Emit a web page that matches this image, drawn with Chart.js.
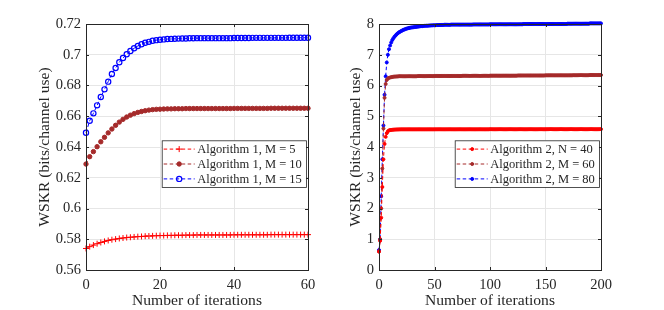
<!DOCTYPE html>
<html>
<head>
<meta charset="utf-8">
<script src="https://cdn.jsdelivr.net/npm/chart.js@4"></script>
<style>
  body { margin: 0; background: #fff; }
  #wrap { position: relative; width: 664px; height: 310px; }
  canvas { position: absolute; top: 0; }
</style>
</head>
<body>
<div id="wrap">
  <canvas id="leftChart" width="332" height="310" style="left:0"></canvas>
  <canvas id="rightChart" width="332" height="310" style="left:332px"></canvas>
</div>
<script>
// ---- left panel: Algorithm 1, WSKR vs iteration (0..60)
const leftXTicks = [0, 20, 40, 60];
const leftYTicks = [0.56, 0.58, 0.6, 0.62, 0.64, 0.66, 0.68, 0.7, 0.72];
const alg1M5 = [
  0.574, 0.5752, 0.5762, 0.5771, 0.5779, 0.5786, 0.5792, 0.5797, 0.5801, 0.5805,
  0.5808, 0.5811, 0.5813, 0.5815, 0.5817, 0.5818, 0.582, 0.5821, 0.5822, 0.5823,
  0.5824, 0.5824, 0.5825, 0.5825, 0.5826, 0.5826, 0.5826, 0.5827, 0.5827, 0.5827,
  0.5828, 0.5828, 0.5828, 0.5828, 0.5828, 0.5828, 0.5828, 0.5828, 0.5828, 0.5828,
  0.5829, 0.5829, 0.5829, 0.5829, 0.5829, 0.5829, 0.5829, 0.5829, 0.5829, 0.5829,
  0.583, 0.583, 0.583, 0.583, 0.583, 0.583, 0.583, 0.583, 0.583, 0.583, 0.583
];
const alg1M10 = [
  0.6289, 0.6337, 0.637, 0.6402, 0.6434, 0.6463, 0.6492, 0.6517, 0.6541, 0.6562,
  0.658, 0.6595, 0.6607, 0.6617, 0.6625, 0.6631, 0.6636, 0.664, 0.6643, 0.6645,
  0.6646, 0.6647, 0.6648, 0.6648, 0.6649, 0.6649, 0.6649, 0.665, 0.665, 0.665,
  0.665, 0.665, 0.665, 0.665, 0.665, 0.665, 0.665, 0.665, 0.665, 0.665,
  0.6651, 0.6651, 0.6651, 0.6651, 0.6651, 0.6651, 0.6651, 0.6651, 0.6651, 0.6651,
  0.6652, 0.6652, 0.6652, 0.6652, 0.6652, 0.6652, 0.6652, 0.6652, 0.6652, 0.6652, 0.6652
];
const alg1M15 = [
  0.6493, 0.6571, 0.6619, 0.6671, 0.6725, 0.6775, 0.6825, 0.6875, 0.6914, 0.6951,
  0.6979, 0.7003, 0.7024, 0.7042, 0.7057, 0.7068, 0.7078, 0.7084, 0.7091, 0.7095,
  0.7098, 0.71, 0.7102, 0.7103, 0.7104, 0.7105, 0.7106, 0.7106, 0.7107, 0.7107,
  0.7108, 0.7108, 0.7108, 0.7108, 0.7108, 0.7108, 0.7108, 0.7108, 0.7108, 0.7108,
  0.7109, 0.7109, 0.7109, 0.7109, 0.7109, 0.711, 0.711, 0.711, 0.711, 0.711,
  0.711, 0.711, 0.711, 0.711, 0.711, 0.7111, 0.7111, 0.7111, 0.7111, 0.7111, 0.7111
];

// ---- right panel: Algorithm 2, WSKR vs iteration (0..200)
const rightXTicks = [0, 50, 100, 150, 200];
const rightYTicks = [0, 1, 2, 3, 4, 5, 6, 7, 8];
const alg2N40 = [
  0.6, 0.95, 1.7, 2.7, 3.6, 4.1, 4.33, 4.45, 4.51, 4.54,
  4.55, 4.555, 4.56, 4.563, 4.566, 4.568, 4.57, 4.571, 4.572, 4.573,
  4.574, 4.574, 4.574, 4.574, 4.574, 4.574, 4.574, 4.574, 4.574, 4.574,
  4.574, 4.574, 4.574, 4.574, 4.574, 4.574, 4.574, 4.574, 4.574, 4.574,
  4.574, 4.574, 4.574, 4.574, 4.574, 4.574, 4.574, 4.574, 4.574, 4.574,
  4.575, 4.575, 4.575, 4.575, 4.575, 4.575, 4.575, 4.575, 4.575, 4.575,
  4.575, 4.575, 4.575, 4.575, 4.575, 4.575, 4.575, 4.575, 4.575, 4.575,
  4.575, 4.575, 4.575, 4.575, 4.575, 4.575, 4.575, 4.575, 4.575, 4.575,
  4.575, 4.575, 4.575, 4.575, 4.575, 4.575, 4.575, 4.575, 4.575, 4.575,
  4.575, 4.575, 4.575, 4.575, 4.575, 4.575, 4.575, 4.575, 4.575, 4.575,
  4.577, 4.577, 4.577, 4.577, 4.577, 4.577, 4.577, 4.577, 4.577, 4.577,
  4.577, 4.577, 4.577, 4.577, 4.577, 4.577, 4.577, 4.577, 4.577, 4.577,
  4.577, 4.577, 4.577, 4.577, 4.577, 4.577, 4.577, 4.577, 4.577, 4.577,
  4.577, 4.577, 4.577, 4.577, 4.577, 4.577, 4.577, 4.577, 4.577, 4.577,
  4.577, 4.577, 4.577, 4.577, 4.577, 4.577, 4.577, 4.577, 4.577, 4.577,
  4.579, 4.579, 4.579, 4.579, 4.579, 4.579, 4.579, 4.579, 4.579, 4.579,
  4.579, 4.579, 4.579, 4.579, 4.579, 4.579, 4.579, 4.579, 4.579, 4.579,
  4.579, 4.579, 4.579, 4.579, 4.579, 4.579, 4.579, 4.579, 4.579, 4.579,
  4.579, 4.579, 4.579, 4.579, 4.579, 4.579, 4.579, 4.579, 4.579, 4.579,
  4.579, 4.579, 4.579, 4.579, 4.579, 4.579, 4.579, 4.579, 4.579, 4.579,
  4.58
];
const alg2M60 = [
  0.6, 1.0, 2.0, 3.3, 4.6, 5.6, 6.05, 6.18, 6.23, 6.25,
  6.26, 6.27, 6.28, 6.285, 6.29, 6.29, 6.295, 6.295, 6.3, 6.3,
  6.3, 6.3, 6.3, 6.3, 6.3, 6.3, 6.3, 6.3, 6.3, 6.3,
  6.3, 6.3, 6.3, 6.3, 6.3, 6.305, 6.305, 6.305, 6.305, 6.305,
  6.305, 6.305, 6.305, 6.305, 6.305, 6.305, 6.305, 6.305, 6.305, 6.305,
  6.31, 6.31, 6.31, 6.31, 6.31, 6.31, 6.31, 6.31, 6.31, 6.31,
  6.31, 6.31, 6.31, 6.31, 6.31, 6.31, 6.31, 6.31, 6.31, 6.31,
  6.31, 6.31, 6.31, 6.31, 6.31, 6.315, 6.315, 6.315, 6.315, 6.315,
  6.315, 6.315, 6.315, 6.315, 6.315, 6.315, 6.315, 6.315, 6.315, 6.315,
  6.315, 6.315, 6.315, 6.315, 6.315, 6.315, 6.315, 6.315, 6.315, 6.315,
  6.32, 6.32, 6.32, 6.32, 6.32, 6.32, 6.32, 6.32, 6.32, 6.32,
  6.32, 6.32, 6.32, 6.32, 6.32, 6.32, 6.32, 6.32, 6.32, 6.32,
  6.32, 6.32, 6.32, 6.32, 6.32, 6.325, 6.325, 6.325, 6.325, 6.325,
  6.325, 6.325, 6.325, 6.325, 6.325, 6.325, 6.325, 6.325, 6.325, 6.325,
  6.325, 6.325, 6.325, 6.325, 6.325, 6.325, 6.325, 6.325, 6.325, 6.325,
  6.33, 6.33, 6.33, 6.33, 6.33, 6.33, 6.33, 6.33, 6.33, 6.33,
  6.33, 6.33, 6.33, 6.33, 6.33, 6.33, 6.33, 6.33, 6.33, 6.33,
  6.33, 6.33, 6.33, 6.33, 6.33, 6.335, 6.335, 6.335, 6.335, 6.335,
  6.335, 6.335, 6.335, 6.335, 6.335, 6.335, 6.335, 6.335, 6.335, 6.335,
  6.34, 6.34, 6.34, 6.34, 6.34, 6.34, 6.34, 6.34, 6.34, 6.34,
  6.34
];
const alg2M80 = [
  0.65, 1.0, 2.4, 3.6, 4.7, 5.7, 6.3, 6.75, 7.0, 7.18,
  7.3, 7.4, 7.48, 7.54, 7.59, 7.63, 7.67, 7.7, 7.73, 7.75,
  7.77, 7.79, 7.81, 7.82, 7.84, 7.85, 7.86, 7.87, 7.88, 7.885,
  7.89, 7.895, 7.9, 7.905, 7.91, 7.915, 7.92, 7.925, 7.93, 7.93,
  7.935, 7.94, 7.94, 7.945, 7.945, 7.95, 7.95, 7.955, 7.955, 7.96,
  7.96, 7.96, 7.965, 7.965, 7.965, 7.97, 7.97, 7.97, 7.97, 7.975,
  7.975, 7.975, 7.975, 7.975, 7.975, 7.98, 7.98, 7.98, 7.98, 7.98,
  7.98, 7.98, 7.98, 7.98, 7.98, 7.98, 7.98, 7.98, 7.98, 7.98,
  7.98, 7.98, 7.98, 7.98, 7.98, 7.985, 7.985, 7.985, 7.985, 7.985,
  7.985, 7.985, 7.985, 7.985, 7.985, 7.985, 7.985, 7.985, 7.985, 7.985,
  7.99, 7.99, 7.99, 7.99, 7.99, 7.99, 7.99, 7.99, 7.99, 7.99,
  7.99, 7.99, 7.99, 7.99, 7.99, 7.99, 7.99, 7.99, 7.99, 7.99,
  7.99, 7.99, 7.99, 7.99, 7.99, 7.99, 7.99, 7.99, 7.99, 7.99,
  8.0, 8.0, 8.0, 8.0, 8.0, 8.0, 8.0, 8.0, 8.0, 8.0,
  8.0, 8.0, 8.0, 8.0, 8.0, 8.0, 8.0, 8.0, 8.0, 8.0,
  8.0, 8.0, 8.0, 8.0, 8.0, 8.0, 8.0, 8.0, 8.0, 8.0,
  8.0, 8.0, 8.0, 8.0, 8.0, 8.0, 8.0, 8.0, 8.0, 8.0,
  8.01, 8.01, 8.01, 8.01, 8.01, 8.01, 8.01, 8.01, 8.01, 8.01,
  8.01, 8.01, 8.01, 8.01, 8.01, 8.01, 8.01, 8.01, 8.01, 8.01,
  8.02, 8.02, 8.02, 8.02, 8.02, 8.02, 8.02, 8.02, 8.02, 8.02,
  8.02
];

const AXIS = '#262626';
const GRID = '#e6e6e6';
const RED = '#ff0000';
const BROWN = '#a52a2a';
const BLUE = '#0000ff';
const SERIF = "'Liberation Serif', 'DejaVu Serif', serif";

// iteration index -> {x, y}
const toPoints = arr => arr.map((v, i) => ({ x: i, y: v }));

// MATLAB style box, inward ticks and legend
const boxPlugin = {
  id: 'matlabBox',
  afterDatasetsDraw(chart, args, opts) {
    const { ctx, chartArea: a, scales } = chart;
    ctx.save();
    ctx.strokeStyle = AXIS;
    ctx.lineWidth = 1;
    ctx.beginPath();
    scales.x.ticks.forEach(t => {
      const px = Math.round(scales.x.getPixelForValue(t.value)) + 0.5;
      ctx.moveTo(px, a.bottom); ctx.lineTo(px, a.bottom - 3);
      ctx.moveTo(px, a.top); ctx.lineTo(px, a.top + 3);
    });
    scales.y.ticks.forEach(t => {
      const py = Math.round(scales.y.getPixelForValue(t.value)) + 0.5;
      ctx.moveTo(a.left, py); ctx.lineTo(a.left + 3, py);
      ctx.moveTo(a.right, py); ctx.lineTo(a.right - 3, py);
    });
    ctx.stroke();
    ctx.strokeRect(a.left + 0.5, a.top + 0.5, a.right - a.left, a.bottom - a.top);

    // legend box
    const lg = opts.legend;
    const bx = a.right - lg.inset - lg.width;
    const by = a.top + lg.top;
    ctx.fillStyle = '#fff';
    ctx.fillRect(bx, by, lg.width, lg.height);
    ctx.lineWidth = 0.8;
    ctx.strokeStyle = AXIS;
    ctx.strokeRect(bx + 0.5, by + 0.5, lg.width, lg.height);
    chart.data.datasets.forEach((ds, i) => {
      const y = by + lg.rowTop + i * lg.rowGap;
      ctx.setLineDash(ds.borderDash);
      ctx.strokeStyle = ds.borderColor;
      ctx.lineWidth = ds.borderWidth;
      ctx.beginPath();
      ctx.moveTo(bx + lg.lineX0, y);
      ctx.lineTo(bx + lg.lineX1, y);
      ctx.stroke();
      ctx.setLineDash([]);
      ctx.fillStyle = ds.pointBackgroundColor;
      ctx.strokeStyle = ds.pointBorderColor;
      ctx.lineWidth = ds.pointBorderWidth;
      Chart.helpers.drawPoint(ctx, {
        pointStyle: ds.pointStyle, radius: ds.pointRadius,
        borderWidth: ds.pointBorderWidth, rotation: 0
      }, bx + (lg.lineX0 + lg.lineX1) / 2, y);
      ctx.fillStyle = AXIS;
      ctx.font = '12.5px ' + SERIF;
      ctx.textBaseline = 'middle';
      ctx.textAlign = 'left';
      ctx.fillText(ds.label, bx + lg.textX, y + 0.5);
    });
    ctx.restore();
  }
};

function axisOptions(min, max, tickValues, title, isY, size, titlePad) {
  return {
    type: 'linear',
    min: min,
    max: max,
    afterBuildTicks: s => { s.ticks = tickValues.map(v => ({ value: v })); },
    afterFit: s => { if (isY) s.width = size; else s.height = size; },
    grid: { color: GRID, drawTicks: false, lineWidth: 1 },
    border: { display: false },
    ticks: {
      color: AXIS,
      font: { family: SERIF, size: 14.5 },
      padding: isY ? 5 : 6,
      maxRotation: 0,
      autoSkip: false,
      callback: v => String(v)
    },
    title: {
      display: true,
      text: title,
      color: AXIS,
      font: { family: SERIF, size: 15.6 },
      padding: isY ? { top: titlePad, bottom: 0 } : { top: 0, bottom: titlePad }
    }
  };
}

function lineSet(label, values, color, style) {
  return Object.assign({
    label: label,
    data: toPoints(values),
    borderColor: color,
    borderWidth: 1,
    borderDash: [3.5, 2.5],
    pointBorderColor: color,
    pointBorderWidth: 1,
    clip: false,
    tension: 0
  }, style);
}

const legendLayout = { inset: 2, top: 116.3, width: 144.3, height: 46.7, rowTop: 8.8, rowGap: 14.9, lineX0: 2, lineX1: 33, textX: 35.5 };

new Chart(document.getElementById('leftChart'), {
  type: 'line',
  data: {
    datasets: [
      lineSet('Algorithm 1, M = 5', alg1M5, RED,
        { pointStyle: 'cross', pointRadius: 3, pointBackgroundColor: RED }),
      lineSet('Algorithm 1, M = 10', alg1M10, BROWN,
        { pointStyle: 'circle', pointRadius: 2.2, pointBackgroundColor: BROWN }),
      lineSet('Algorithm 1, M = 15', alg1M15, BLUE,
        { pointStyle: 'circle', pointRadius: 2.6, pointBorderWidth: 1.2, pointBackgroundColor: 'rgba(0,0,0,0)' })
    ]
  },
  options: {
    responsive: false,
    animation: false,
    layout: { padding: { top: 24, right: 24, left: 0, bottom: 0 } },
    plugins: { legend: { display: false }, tooltip: { enabled: false }, matlabBox: { legend: legendLayout } },
    scales: {
      x: axisOptions(0, 60, leftXTicks, 'Number of iterations', false, 40, 0),
      y: axisOptions(0.56, 0.72, leftYTicks, 'WSKR (bits/channel use)', true, 86, 35.6)
    }
  },
  plugins: [boxPlugin]
});

new Chart(document.getElementById('rightChart'), {
  type: 'line',
  data: {
    datasets: [
      lineSet('Algorithm 2, N = 40', alg2N40, RED,
        { pointStyle: 'circle', pointRadius: 1.5, pointBackgroundColor: RED }),
      lineSet('Algorithm 2, M = 60', alg2M60, BROWN,
        { pointStyle: 'circle', pointRadius: 1.5, pointBackgroundColor: BROWN }),
      lineSet('Algorithm 2, M = 80', alg2M80, BLUE,
        { pointStyle: 'circle', pointRadius: 1.5, pointBackgroundColor: BLUE })
    ]
  },
  options: {
    responsive: false,
    animation: false,
    layout: { padding: { top: 24, right: 63, left: 0, bottom: 0 } },
    plugins: { legend: { display: false }, tooltip: { enabled: false }, matlabBox: { legend: legendLayout } },
    scales: {
      x: axisOptions(0, 200, rightXTicks, 'Number of iterations', false, 40, 0),
      y: axisOptions(0, 8, rightYTicks, 'WSKR (bits/channel use)', true, 47, 14.6)
    }
  },
  plugins: [boxPlugin]
});
</script>
</body>
</html>
